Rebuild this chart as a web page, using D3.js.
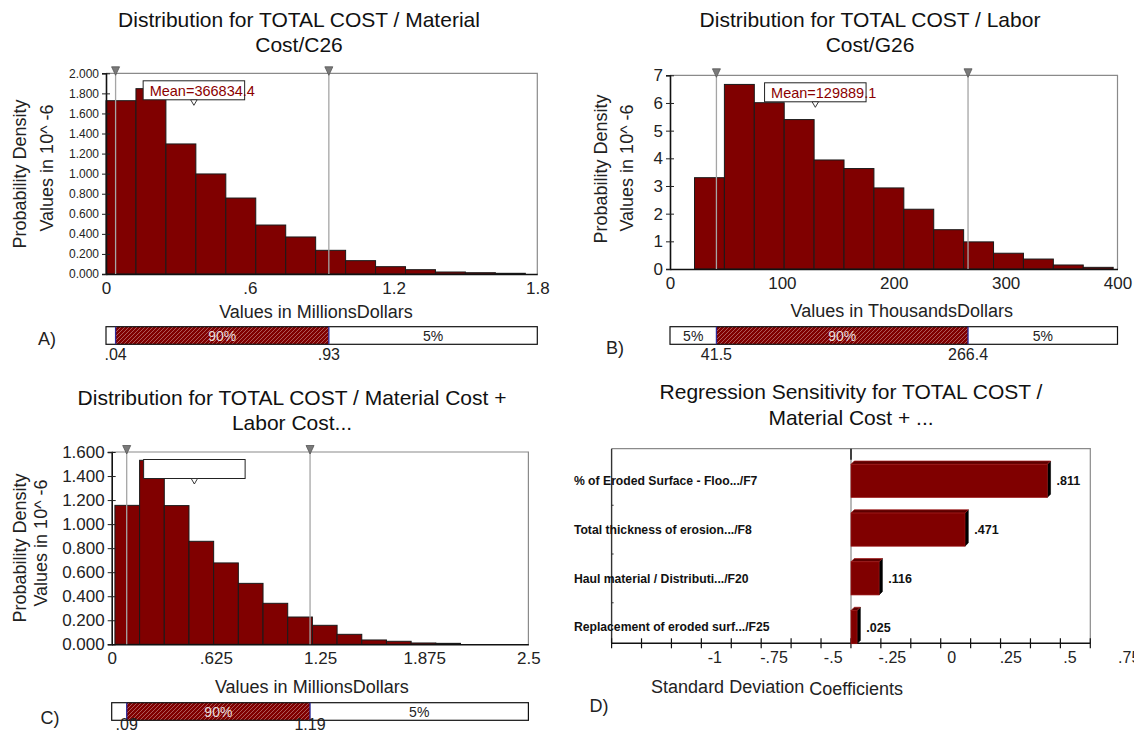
<!DOCTYPE html>
<html><head><meta charset="utf-8">
<script src="https://cdn.jsdelivr.net/npm/d3@7"></script>
<style>
body{margin:0;background:#fff;}
svg{display:block;font-family:Arial,"Liberation Sans",sans-serif;}
</style></head><body>
<svg id="c" width="1134" height="734"></svg>
<script>
// ---------- DATA ----------
// Panel A: Material Cost (millions $)
const densA = [1.727,1.847,1.296,0.997,0.757,0.488,0.369,0.236,0.133,0.073,0.043,0.020,0.013,0.007];
const binStartA = 0, binWidthA = 0.125;
const pctA = [0.04, 0.93];
const pctLabelsA = [".04", ".93"];
const meanA = 0.3668344;
const xTicksA = [0, 0.6, 1.2, 1.8];
const yTicksA = [0,0.2,0.4,0.6,0.8,1.0,1.2,1.4,1.6,1.8,2.0];

// Panel B: Labor Cost (thousands $)
const densB = [3.30,6.67,6.01,5.40,3.94,3.63,2.93,2.16,1.42,0.98,0.57,0.36,0.145,0.06];
const binStartB = 21.9, binWidthB = 26.73;
const pctB = [41.5, 266.4];
const pctLabelsB = ["41.5", "266.4"];
const meanB = 129.8891;
const xTicksB = [0, 100, 200, 300, 400];
const yTicksB = [0,1,2,3,4,5,6,7];

// Panel C: Material + Labor (millions $)
const densC = [1.156,1.531,1.154,0.857,0.677,0.507,0.341,0.227,0.158,0.083,0.036,0.025,0.011,0.008];
const binStartC = 0.0193, binWidthC = 0.1481;
const pctC = [0.09, 1.19];
const pctLabelsC = [".09", "1.19"];
const meanC = 0.496;
const xTicksC = [0, 0.625, 1.25, 1.875, 2.5];
const yTicksC = [0,0.2,0.4,0.6,0.8,1.0,1.2,1.4,1.6];

// Panel D: regression sensitivity
const sensLabels = ["% of Eroded Surface - Floo.../F7","Total thickness of erosion.../F8","Haul material / Distributi.../F20","Replacement of eroded surf.../F25"];
const sensValues = [0.811, 0.471, 0.116, 0.025];
const sensValueLabels = [".811", ".471", ".116", ".025"];
const sensTickValues = [-1, -0.75, -0.5, -0.25, 0, 0.25, 0.5, 0.75];
const sensTickLabels = ["-1", "-.75", "-.5", "-.25", "0", ".25", ".5", ".75"];

// ---------- DRAWING ----------
const RED = "#800000";
const svg = d3.select("#c");
const defs = svg.append("defs");
const pat = defs.append("pattern").attr("id","hatch").attr("patternUnits","userSpaceOnUse")
  .attr("width",4).attr("height",4);
pat.append("rect").attr("width",4).attr("height",4).attr("fill",RED);
pat.append("path").attr("d","M-1,1 L1,-1 M0,4 L4,0 M3,5 L5,3")
  .attr("stroke","#b97070").attr("stroke-width",0.8);

const noLead = v => v === 0 ? "0" : String(v).replace(/^0\./,".").replace(/^-0\./,"-.");

function hist(o){
  const x = d3.scaleLinear().domain(o.xDomain).range([o.left,o.right]);
  const y = d3.scaleLinear().domain(o.yDomain).range([o.bottom,o.top]);
  const g = svg.append("g");
  // title
  o.title.forEach((t,i)=> g.append("text").attr("x",o.titleX).attr("y",o.titleY+i*25)
    .attr("text-anchor","middle").attr("font-size",21).attr("fill","#111").text(t));
  // frame top & right
  g.append("path").attr("d",`M${o.left},${o.top}H${o.right}V${o.bottom}`)
    .attr("fill","none").attr("stroke","#8a8a8a").attr("stroke-width",1.2);
  // bars
  g.selectAll("rect.bar").data(o.dens).join("rect").attr("class","bar")
    .attr("x",(d,i)=>x(o.binStart+i*o.binWidth))
    .attr("width",(d,i)=>x(o.binStart+(i+1)*o.binWidth)-x(o.binStart+i*o.binWidth))
    .attr("y",d=>y(d)).attr("height",d=>y(0)-y(d))
    .attr("fill",RED).attr("stroke","#1a1a1a").attr("stroke-width",1);
  // y axis
  const ya = g.append("g").attr("transform",`translate(${o.left},0)`)
    .call(d3.axisLeft(y).tickValues(o.yTicks).tickFormat(o.yFmt).tickSize(4).tickPadding(3));
  ya.select(".domain").attr("stroke","#111").attr("stroke-width",1.6);
  ya.selectAll(".tick line").attr("stroke","#222").attr("x2",-4).attr("x1",4);
  ya.selectAll("text").attr("font-size",o.yFont).attr("fill","#222").attr("font-family","Arial, Liberation Sans, sans-serif");
  // x axis
  const xa = g.append("g").attr("transform",`translate(0,${o.bottom})`)
    .call(d3.axisBottom(x).tickValues(o.xTicks).tickFormat(noLead).tickSize(0).tickPadding(8));
  xa.select(".domain").attr("stroke","#111").attr("stroke-width",1.6);
  xa.selectAll("text").attr("font-size",17).attr("fill","#222").attr("font-family","Arial, Liberation Sans, sans-serif");
  // percentile lines & markers
  g.selectAll("line.pct").data(o.pct).join("line").attr("class","pct")
    .attr("x1",d=>x(d)).attr("x2",d=>x(d)).attr("y1",o.top).attr("y2",o.bottom)
    .attr("stroke","#a5a5a5").attr("stroke-width",1.3);
  g.selectAll("path.pm").data(o.pct).join("path").attr("class","pm")
    .attr("d",d=>`M${x(d)-4},${o.top-6.5}H${x(d)+4}L${x(d)},${o.top+2}Z`)
    .attr("fill","#7a7a7a").attr("stroke","#555").attr("stroke-width",0.8);
  // mean box
  const mx = x(o.mean), bw = 101.5, by = o.top+7.5;
  g.append("rect").attr("x",mx-bw/2).attr("y",by).attr("width",bw).attr("height",19)
    .attr("fill","#fff").attr("stroke","#222").attr("stroke-width",1);
  g.append("path").attr("d",`M${mx-3.2},${by+19}H${mx+3.2}L${mx},${by+24.5}Z`)
    .attr("fill","#fff").attr("stroke","#222").attr("stroke-width",0.9);
  if(o.meanLabel) g.append("text").attr("x",mx-bw/2+6.5).attr("y",by+15.5)
    .attr("font-size",14.5).attr("fill","#8b0000").text(o.meanLabel);
  // axis titles
  g.append("text").attr("transform",`translate(${o.yt1x},${o.yt1y}) rotate(-90)`)
    .attr("text-anchor","middle").attr("dy","0.35em").attr("font-size",18).attr("fill","#222").text("Probability Density");
  g.append("text").attr("transform",`translate(${o.yt2x},${o.yt2y}) rotate(-90)`)
    .attr("text-anchor","middle").attr("dy","0.35em").attr("font-size",18).attr("fill","#222").text("Values in 10^ -6");
  g.append("text").attr("x",o.xtX).attr("y",o.xtY).attr("text-anchor","middle")
    .attr("font-size",18).attr("fill","#222").text(o.xTitle);
  // percentile bar
  const pb = o.pbTop, ph = 17.6;
  const parts = [[o.xDomain[0],o.pct[0],"5%",false],[o.pct[0],o.pct[1],"90%",true],[o.pct[1],o.xDomain[1],"5%",false]];
  parts.forEach(p=>{
    g.append("rect").attr("x",x(p[0])).attr("y",pb).attr("width",x(p[1])-x(p[0])).attr("height",ph)
      .attr("fill",p[3]?"url(#hatch)":"#fff").attr("stroke","none");
    if(x(p[1])-x(p[0])>30) g.append("text").attr("x",(x(p[0])+x(p[1]))/2).attr("y",pb+ph/2).attr("dy","0.36em")
      .attr("text-anchor","middle").attr("font-size",14).attr("fill",p[3]?"#e8dede":"#222").text(p[2]);
  });
  g.append("rect").attr("x",x(o.xDomain[0])).attr("y",pb).attr("width",x(o.xDomain[1])-x(o.xDomain[0])).attr("height",ph)
    .attr("fill","none").attr("stroke","#111").attr("stroke-width",1.2);
  g.selectAll("line.pb").data(o.pct).join("line").attr("class","pb")
    .attr("x1",d=>x(d)).attr("x2",d=>x(d)).attr("y1",pb).attr("y2",pb+ph)
    .attr("stroke","#2b2b9a").attr("stroke-width",1.3);
  g.selectAll("text.pl").data(o.pct).join("text").attr("class","pl")
    .attr("x",d=>x(d)).attr("y",o.pLabelY).attr("text-anchor","middle")
    .attr("font-size",16).attr("fill","#222").text((d,i)=>o.pctLabels[i]);
  // panel letter
  g.append("text").attr("x",o.letterX).attr("y",o.letterY).attr("dy","0.35em").attr("text-anchor","middle")
    .attr("font-size",18).attr("fill","#222").text(o.letter);
}

hist({title:["Distribution for TOTAL COST / Material","Cost/C26"], titleX:299, titleY:27,
  left:106, right:537.3, top:73.3, bottom:274, xDomain:[0,1.8], yDomain:[0,2.0],
  dens:densA, binStart:binStartA, binWidth:binWidthA, yTicks:yTicksA, yFmt:d3.format(".3f"), yFont:12,
  xTicks:xTicksA, pct:pctA, pctLabels:pctLabelsA, mean:meanA, meanLabel:"Mean=366834.4",
  yt1x:19.6, yt1y:174, yt2x:47, yt2y:168, xTitle:"Values in MillionsDollars", xtX:316, xtY:318,
  pbTop:326.7, pLabelY:360, letter:"A)", letterX:47, letterY:339});

hist({title:["Distribution for TOTAL COST / Labor","Cost/G26"], titleX:870, titleY:27,
  left:670, right:1117.5, top:75.3, bottom:269, xDomain:[0,400], yDomain:[0,7],
  dens:densB, binStart:binStartB, binWidth:binWidthB, yTicks:yTicksB, yFmt:d3.format("d"), yFont:17,
  xTicks:xTicksB, pct:pctB, pctLabels:pctLabelsB, mean:meanB, meanLabel:"Mean=129889.1",
  yt1x:601, yt1y:169, yt2x:627, yt2y:168, xTitle:"Values in ThousandsDollars", xtX:901.8, xtY:317,
  pbTop:326.7, pLabelY:360, letter:"B)", letterX:615, letterY:348});

hist({title:["Distribution for TOTAL COST / Material Cost +","Labor Cost..."], titleX:292, titleY:405,
  left:111.7, right:528.4, top:452, bottom:644.3, xDomain:[0,2.5], yDomain:[0,1.6],
  dens:densC, binStart:binStartC, binWidth:binWidthC, yTicks:yTicksC, yFmt:d3.format(".3f"), yFont:17,
  xTicks:xTicksC, pct:pctC, pctLabels:pctLabelsC, mean:meanC, meanLabel:null,
  yt1x:19.6, yt1y:548, yt2x:41, yt2y:543, xTitle:"Values in MillionsDollars", xtX:311.8, xtY:693,
  pbTop:702.7, pLabelY:730, letter:"C)", letterX:50, letterY:718});

// ---------- Panel D ----------
(function(){
  const g = svg.append("g");
  const L = 611.6, R = 1090.3, T = 448.7, B = 643.3;
  const xBar = d3.scaleLinear().domain([0,1]).range([851,1093]);
  const yBand = d3.scaleBand().domain(sensLabels).range([456.5,651.5]).paddingInner(0.32).paddingOuter(0.16);
  const xLbl = d3.scaleLinear().domain([-1,0.75]).range([714.8,1129.2]);
  const xTick = d3.scaleLinear().domain([0,16]).range([L,R]);
  ["Regression Sensitivity for TOTAL COST /","Material Cost + ..."].forEach((t,i)=>
    g.append("text").attr("x",851).attr("y",399+i*25.5).attr("text-anchor","middle")
      .attr("font-size",21).attr("fill","#111").text(t));
  // frame
  g.append("path").attr("d",`M${L},${T}H${R}V${B}`).attr("fill","none").attr("stroke","#8a8a8a").attr("stroke-width",1.2);
  g.append("line").attr("x1",L).attr("x2",L).attr("y1",T).attr("y2",B).attr("stroke","#333").attr("stroke-width",1.4);
  // zero line
  g.append("line").attr("x1",xBar(0)).attr("x2",xBar(0)).attr("y1",T).attr("y2",B).attr("stroke","#8a8a8a").attr("stroke-width",1.2);
  g.append("line").attr("x1",xBar(0)).attr("x2",xBar(0)).attr("y1",T).attr("y2",T+11).attr("stroke","#222").attr("stroke-width",1.6);
  // bottom axis
  g.append("line").attr("x1",L).attr("x2",R).attr("y1",B).attr("y2",B).attr("stroke","#111").attr("stroke-width",1.6);
  g.selectAll("line.tk").data(d3.range(17)).join("line").attr("class","tk")
    .attr("x1",d=>xTick(d)).attr("x2",d=>xTick(d)).attr("y1",B-5).attr("y2",B+5)
    .attr("stroke","#111").attr("stroke-width",1.2);
  g.selectAll("text.tl").data(sensTickValues).join("text").attr("class","tl")
    .attr("x",d=>xLbl(d)).attr("y",657.7).attr("dy","0.36em").attr("text-anchor","middle")
    .attr("font-size",16).attr("fill","#222").text((d,i)=>sensTickLabels[i]);
  // bars (3D)
  const dd = 3.3, bw = yBand.bandwidth();
  const bars = g.selectAll("g.bar").data(sensValues).join("g").attr("class","bar");
  bars.append("path").attr("d",(d,i)=>{const x1=xBar(d),yt=yBand(sensLabels[i]);
      return `M${x1},${yt}L${x1+dd},${yt-dd}V${yt+bw-dd}L${x1},${yt+bw}Z`;})
    .attr("fill","#000").attr("stroke","#000").attr("stroke-width",0.6);
  bars.append("path").attr("d",(d,i)=>{const x0=xBar(0),x1=xBar(d),yt=yBand(sensLabels[i]);
      return `M${x0},${yt}L${x0+dd},${yt-dd}H${x1+dd}L${x1},${yt}Z`;})
    .attr("fill","#5c0000").attr("stroke","#a51a1a").attr("stroke-width",0.7);
  bars.append("rect").attr("x",xBar(0)).attr("y",(d,i)=>yBand(sensLabels[i]))
    .attr("width",d=>xBar(d)-xBar(0)).attr("height",bw)
    .attr("fill",RED).attr("stroke","#9a1515").attr("stroke-width",0.7);
  g.selectAll("text.vl").data(sensValues).join("text").attr("class","vl")
    .attr("x",d=>xBar(d)+dd+6).attr("y",(d,i)=>yBand(sensLabels[i])+bw/2).attr("dy","0.35em")
    .attr("font-size",12.5).attr("font-weight","bold").attr("fill","#111").text((d,i)=>sensValueLabels[i]);
  g.selectAll("text.rl").data(sensLabels).join("text").attr("class","rl")
    .attr("x",573.9).attr("y",d=>yBand(d)+bw/2).attr("dy","0.35em")
    .attr("font-size",12.2).attr("font-weight","bold").attr("fill","#111").text(d=>d);
  // left-frame dots between rows
  g.selectAll("line.lt").data(sensLabels.slice(1)).join("line").attr("class","lt")
    .attr("x1",L).attr("x2",L+2).attr("y1",d=>yBand(d)-yBand.step()*0.16).attr("y2",d=>yBand(d)-yBand.step()*0.16)
    .attr("stroke","#333");
  const t = g.append("text").attr("x",777).attr("y",693).attr("text-anchor","middle").attr("font-size",18).attr("fill","#222");
  t.append("tspan").text("Standard Deviation ");
  t.append("tspan").attr("dy",1.5).text("Coefficients");
  g.append("text").attr("x",599).attr("y",706).attr("dy","0.35em").attr("text-anchor","middle")
    .attr("font-size",18).attr("fill","#222").text("D)");
})();
</script>
</body></html>
